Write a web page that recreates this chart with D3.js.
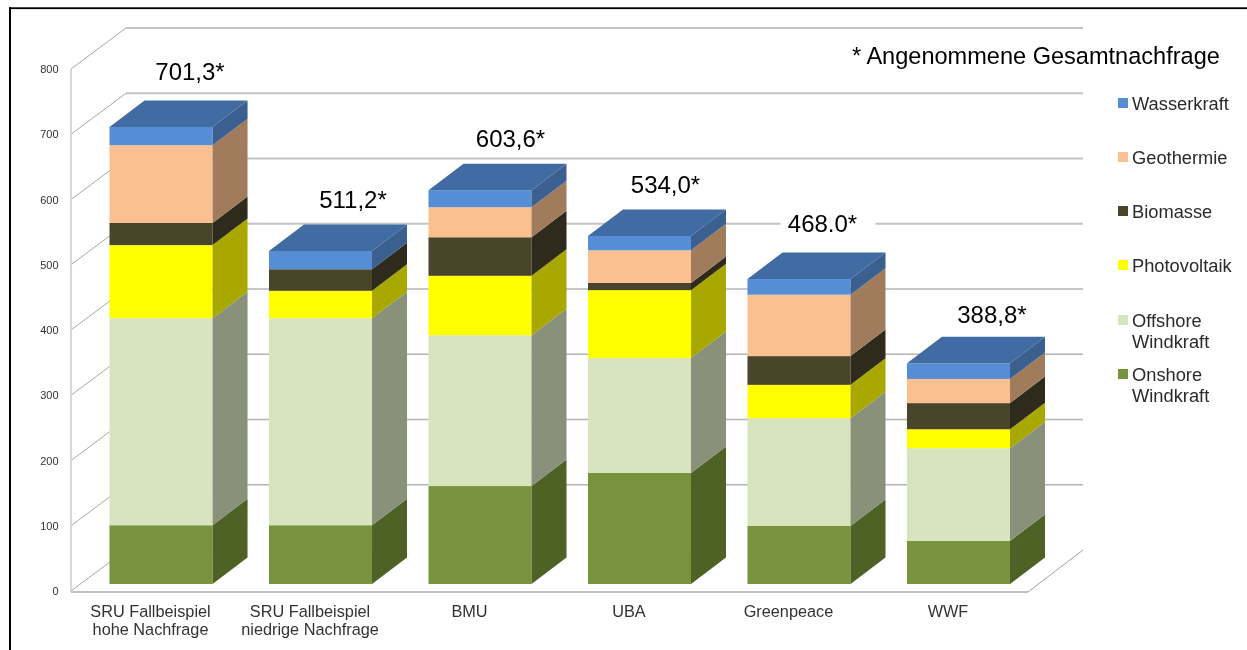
<!DOCTYPE html>
<html lang="de">
<head>
<meta charset="utf-8">
<script src="https://cdn.jsdelivr.net/npm/d3@7"></script>
<style>
html,body{margin:0;padding:0;background:#fff;overflow:hidden}
svg{display:block}
text{font-family:"Liberation Sans",Arial,sans-serif}
</style>
</head>
<body>
<svg id="chart" width="1247" height="650"></svg>
<script>
// ---------- data ----------
const categories = ["SRU Fallbeispiel|hohe Nachfrage","SRU Fallbeispiel|niedrige Nachfrage","BMU","UBA","Greenpeace","WWF"];
const totalLabels = ["701,3*","511,2*","603,6*","534,0*","468.0*","388,8*"];
const onshore    = [90, 90, 150, 170, 89, 66];
const offshore   = [317, 317, 231, 176, 165, 142];
const photovolt  = [112, 42, 91, 104, 51, 29];
const biomasse   = [34, 33, 59, 11, 44, 40];
const geothermie = [119, 0, 46, 50, 94, 37];
const wasserkraft= [28, 28, 26, 22, 24, 24];
const yTicks = [0,100,200,300,400,500,600,700,800];
const seriesNames = ["Onshore|Windkraft","Offshore|Windkraft","Photovoltaik","Biomasse","Geothermie","Wasserkraft"];
const seriesValues = [onshore, offshore, photovolt, biomasse, geothermie, wasserkraft];
const frontColors = ["#77933c","#d7e4bd","#ffff00","#4a452a","#fac090","#558ed5"];
const sideColors  = ["#4f6228","#8a917a","#a8a800","#2f2b1a","#a17c5c","#3a5f8f"];
const topColor = "#416ca3";
const noteText = "* Angenommene Gesamtnachfrage";

// ---------- layout ----------
const wallDx = 55, wallDy = -41, barDx = 35, barDy = -26.5;
const labelOffsets = [[29,-47],[32.5,-43],[30.5,-43],[26,-43],[23.5,-47],[33.5,-40]];
const legendRows = [381,327,272,218,164,110];

const svg = d3.select("#chart");
const y = d3.scaleLinear().domain([0,800]).range([591,69]);
const barY = d3.scaleLinear().domain([0,800]).range([584,584-522.4]);
const x = d3.scaleBand().domain(categories).range([109.5,1010]).paddingInner(0.354).paddingOuter(0);

const root = svg.append("g");
const defs = svg.append("defs");
defs.append("filter").attr("id","soft").attr("x","0").attr("y","0").attr("width","1").attr("height","1")
  .attr("filterUnits","objectBoundingBox")
  .append("feGaussianBlur").attr("stdDeviation",0.45);
root.attr("filter","url(#soft)");
root.append("rect").attr("width",1247).attr("height",650).attr("fill","#fff");

// walls and gridlines
const xFront = 71, xRight = 1028;
const grid = root.append("g");
grid.selectAll("line.back").data(yTicks.slice(1)).join("line").attr("class","back")
  .attr("x1",xFront+wallDx).attr("x2",xRight+wallDx)
  .attr("y1",d=>y(d)+wallDy).attr("y2",d=>y(d)+wallDy)
  .attr("stroke",d=>d>=500?"#c3c3c3":"#b4b4b4").attr("stroke-width",d=>d>=500?2:1.5);
grid.selectAll("line.side").data(yTicks).join("line").attr("class","side")
  .attr("x1",xFront).attr("x2",xFront+wallDx)
  .attr("y1",d=>y(d)).attr("y2",d=>y(d)+wallDy)
  .attr("stroke","#a8a8a8").attr("stroke-width",1);
grid.append("line").attr("x1",xFront).attr("x2",xFront).attr("y1",y(800)).attr("y2",y(0)+1)
  .attr("stroke","#cfcfcf").attr("stroke-width",1.6);
grid.append("line").attr("x1",xFront).attr("x2",xRight).attr("y1",y(0)+1).attr("y2",y(0)+1)
  .attr("stroke","#c0c0c0").attr("stroke-width",2);
grid.append("line").attr("x1",xRight).attr("x2",xRight+wallDx).attr("y1",y(0)+1).attr("y2",y(0)+wallDy)
  .attr("stroke","#a0a0a0").attr("stroke-width",1);

// y axis labels
const yAxis = root.append("g").attr("transform",`translate(${xFront-12.5},0)`)
  .call(d3.axisLeft(y).tickValues(yTicks).tickSize(0).tickPadding(0));
yAxis.select(".domain").remove();
yAxis.selectAll("text").attr("font-size",11).attr("fill","#333").attr("font-family","Liberation Sans");

// value labels (white plate hides the wall line)
const labels = root.append("g");
const tops = categories.map((c,i)=>d3.sum(seriesValues,s=>s[i]));
categories.forEach((c,i)=>{
  const cx = x(c)+x.bandwidth()/2+labelOffsets[i][0];
  const by = barY(tops[i])+labelOffsets[i][1];
  labels.append("rect").attr("x",cx-42).attr("y",by-22).attr("width",95).attr("height",28).attr("fill","#fff");
  labels.append("text").attr("x",cx).attr("y",by).attr("text-anchor","middle")
    .attr("font-size",24).attr("fill","#000").text(totalLabels[i]);
});

// bars
const bars = root.append("g");
const w = x.bandwidth();
categories.forEach((c,i)=>{
  const g = bars.append("g");
  const x0 = x(c);
  let cum = 0;
  seriesValues.forEach((s,k)=>{
    const v = s[i]; if(!v) return;
    const yB = barY(cum), yT = barY(cum+v);
    cum += v;
    g.append("rect").attr("x",x0).attr("y",yT).attr("width",w).attr("height",yB-yT).attr("fill",frontColors[k]);
    g.append("path").attr("fill",sideColors[k])
      .attr("d",d3.line()([[x0+w,yB],[x0+w+barDx,yB+barDy],[x0+w+barDx,yT+barDy],[x0+w,yT]])+"Z");
  });
  const yTop = barY(cum);
  g.append("path").attr("fill",topColor)
    .attr("d",d3.line()([[x0,yTop],[x0+barDx,yTop+barDy],[x0+w+barDx,yTop+barDy],[x0+w,yTop]])+"Z");
});

// category labels
const catAxis = root.append("g");
categories.forEach(c=>{
  const t = catAxis.append("text").attr("text-anchor","middle").attr("font-size",16.3).attr("fill","#333")
    .attr("x",x(c)+w/2-10.5).attr("y",616.5);
  c.split("|").forEach((line,j)=>t.append("tspan").attr("x",x(c)+w/2-10.5).attr("dy",j?18.5:0).text(line));
});

// note
root.append("text").attr("x",852).attr("y",63.5).attr("font-size",23.55).attr("fill","#000").text(noteText);

// legend
const legend = root.append("g");
seriesNames.forEach((n,k)=>{
  const by = legendRows[k];
  legend.append("rect").attr("x",1118).attr("y",by-12).attr("width",10).attr("height",10).attr("fill",frontColors[k]);
  const t = legend.append("text").attr("font-size",18.3).attr("fill","#2b2b2b").attr("y",by);
  n.split("|").forEach((line,j)=>t.append("tspan").attr("x",1132).attr("dy",j?21:0).text(line));
});

// page frame
svg.append("rect").attr("x",9).attr("y",7.3).attr("width",1238).attr("height",1.8).attr("fill","#000");
svg.append("rect").attr("x",9).attr("y",7.3).attr("width",2).attr("height",643).attr("fill","#000");
</script>
</body>
</html>
